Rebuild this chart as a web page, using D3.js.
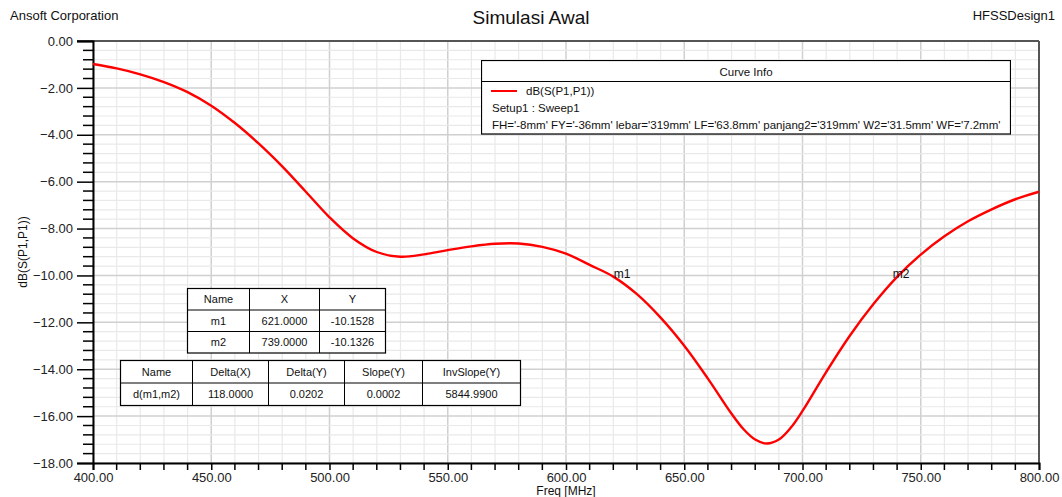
<!DOCTYPE html>
<html>
<head>
<meta charset="utf-8">
<script src="https://cdn.jsdelivr.net/npm/d3@7"></script>
<style>
  body { margin: 0; background: #ffffff; }
  svg { font-family: "Liberation Sans", Arial, sans-serif; display: block; }
</style>
</head>
<body>
<div id="canvas"></div>
<script>
// S11 curve (MHz, dB)
const freq = [400, 410, 420, 430, 440, 450, 460, 470, 480, 490, 500, 510, 520, 530, 540, 550, 560, 570, 580, 590,
              600, 610, 620, 630, 640, 650, 660, 670, 675, 680, 685, 690, 695, 700, 710, 720, 730, 740, 750, 760,
              770, 780, 790, 800];
const s11 = [-0.98, -1.17, -1.42, -1.75, -2.18, -2.76, -3.50, -4.37, -5.35, -6.43, -7.52, -8.42, -9.00, -9.20, -9.10, -8.92, -8.76, -8.65, -8.64, -8.78,
             -9.07, -9.55, -10.05, -10.80, -11.80, -13.00, -14.40, -15.90, -16.55, -17.00, -17.17, -17.00, -16.50, -15.78, -14.12, -12.57, -11.22, -10.06, -9.11, -8.33,
             -7.69, -7.18, -6.75, -6.43];

const markerNames = ["m1", "m2"];
const markerX = [621, 739];
const markerY = [-10.1528, -10.1326];

const xTicks = [400, 450, 500, 550, 600, 650, 700, 750, 800];
const yTicks = [0, -2, -4, -6, -8, -10, -12, -14, -16, -18];

const table1Head = ["Name", "X", "Y"];
const table1Rows = [["m1", "621.0000", "-10.1528"], ["m2", "739.0000", "-10.1326"]];
const table2Head = ["Name", "Delta(X)", "Delta(Y)", "Slope(Y)", "InvSlope(Y)"];
const table2Rows = [["d(m1,m2)", "118.0000", "0.0202", "0.0002", "5844.9900"]];

const legendLines = ["dB(S(P1,P1))", "Setup1 : Sweep1",
  "FH='-8mm' FY='-36mm' lebar='319mm' LF='63.8mm' panjang2='319mm' W2='31.5mm' WF='7.2mm'"];

const width = 1062, height = 497;
const margin = {left: 93, right: 23, top: 41, bottom: 34};

let svg = d3.select("#canvas").append("svg").attr("width", width).attr("height", height);
svg.append("rect").attr("width", width).attr("height", height).attr("fill", "#ffffff");

var x = d3.scaleLinear().domain([400, 800]).range([margin.left, width - margin.right]);
var y = d3.scaleLinear().domain([-18, 0]).range([height - margin.bottom, margin.top]);

// grid: minor then major
let grid = svg.append("g");
grid.selectAll("line.vx").data(d3.range(400, 801, 10)).enter().append("line")
    .attr("x1", d => x(d)).attr("x2", d => x(d)).attr("y1", y(0)).attr("y2", y(-18))
    .attr("stroke", d => d % 50 == 0 ? "#d0d0d0" : "#e9e9e9").attr("stroke-width", d => d % 50 == 0 ? 1.5 : 1.2);
grid.selectAll("line.hy").data(d3.range(0, 46)).enter().append("line")
    .attr("x1", x(400)).attr("x2", x(800)).attr("y1", i => y(-0.4 * i)).attr("y2", i => y(-0.4 * i))
    .attr("stroke", i => i % 5 == 0 ? "#d0d0d0" : "#e9e9e9").attr("stroke-width", i => i % 5 == 0 ? 1.5 : 1.2);

// frame top/right
svg.append("line").attr("x1", x(400) - 16).attr("x2", x(800)).attr("y1", y(0)).attr("y2", y(0))
    .attr("stroke", "#555").attr("stroke-width", 2);
svg.append("line").attr("x1", x(800)).attr("x2", x(800)).attr("y1", y(0)).attr("y2", y(-18))
    .attr("stroke", "#555").attr("stroke-width", 2);

// x axis
let xa = svg.append("g").attr("transform", "translate(0," + y(-18) + ")")
    .call(d3.axisBottom(x).tickValues(xTicks).tickFormat(d3.format(".2f")).tickSize(7).tickPadding(3));
xa.select(".domain").attr("stroke", "#000").attr("stroke-width", 2);
xa.selectAll(".tick line").attr("stroke", "#000").attr("stroke-width", 1.5);
xa.selectAll("text").attr("font-size", 13).attr("fill", "#222").attr("font-family", "Liberation Sans, Arial");
xa.selectAll(".minor").data(d3.range(400, 801, 10).filter(d => d % 50 != 0)).enter().append("line")
    .attr("x1", d => x(d)).attr("x2", d => x(d)).attr("y1", 0).attr("y2", 7)
    .attr("stroke", "#000").attr("stroke-width", 1.5);

// y axis
let ya = svg.append("g").attr("transform", "translate(" + x(400) + ",0)")
    .call(d3.axisLeft(y).tickValues(yTicks).tickFormat(d3.format(".2f")).tickSize(16).tickPadding(4));
ya.select(".domain").attr("stroke", "#000").attr("stroke-width", 2);
ya.selectAll(".tick line").attr("stroke", "#000").attr("stroke-width", 1.5);
ya.selectAll("text").attr("font-size", 13).attr("fill", "#222").attr("font-family", "Liberation Sans, Arial");
ya.selectAll(".minor").data(d3.range(0, 46).filter(i => i % 5 != 0)).enter().append("line")
    .attr("x1", -10).attr("x2", 0).attr("y1", i => y(-0.4 * i)).attr("y2", i => y(-0.4 * i))
    .attr("stroke", "#000").attr("stroke-width", 1.5);

// curve
const pts = freq.map((f, i) => [f, s11[i]]);
svg.append("path").datum(pts)
    .attr("fill", "none").attr("stroke", "#ff0000").attr("stroke-width", 2.4)
    .attr("d", d3.line().x(d => x(d[0])).y(d => y(d[1])).curve(d3.curveCatmullRom));

// marker labels
svg.selectAll("text.mk").data(markerNames).enter().append("text")
    .attr("x", (d, i) => x(markerX[i]) - 2).attr("y", (d, i) => y(markerY[i]) - 1)
    .attr("font-size", 12).attr("fill", "#111").text(d => d);

// header texts
svg.append("text").attr("x", 10).attr("y", 20).attr("font-size", 13).attr("fill", "#111").text("Ansoft Corporation");
svg.append("text").attr("x", 531).attr("y", 24).attr("text-anchor", "middle").attr("font-size", 19).attr("fill", "#111").text("Simulasi Awal");
svg.append("text").attr("x", 1055).attr("y", 20).attr("text-anchor", "end").attr("font-size", 13).attr("fill", "#111").text("HFSSDesign1");
svg.append("text").attr("x", 566).attr("y", 495).attr("text-anchor", "middle").attr("font-size", 12).attr("fill", "#111").text("Freq [MHz]");
svg.append("text").attr("transform", "translate(27,252) rotate(-90)").attr("text-anchor", "middle")
    .attr("font-size", 12).attr("fill", "#111").text("dB(S(P1,P1))");

// legend box
let lg = svg.append("g");
svg.append("clipPath").attr("id", "lgclip").append("rect").attr("x", 481).attr("y", 60).attr("width", 530).attr("height", 75);
lg.attr("clip-path", "url(#lgclip)");
lg.append("rect").attr("x", 481.5).attr("y", 60.5).attr("width", 529).attr("height", 73.5)
    .attr("fill", "#fff").attr("stroke", "#000").attr("stroke-width", 1.2);
lg.append("line").attr("x1", 481.5).attr("x2", 1010.5).attr("y1", 81.5).attr("y2", 81.5).attr("stroke", "#000");
lg.append("text").attr("x", 746).attr("y", 76).attr("text-anchor", "middle").attr("font-size", 11.5).attr("fill", "#111").text("Curve Info");
lg.append("line").attr("x1", 491).attr("x2", 517).attr("y1", 91).attr("y2", 91).attr("stroke", "#ff0000").attr("stroke-width", 2);
lg.append("text").attr("x", 526).attr("y", 95).attr("font-size", 11.5).attr("fill", "#111").text(legendLines[0]);
lg.append("text").attr("x", 492).attr("y", 112).attr("font-size", 11.5).attr("fill", "#111").text(legendLines[1]);
lg.append("text").attr("x", 492).attr("y", 129).attr("font-size", 11.5).attr("fill", "#111").text(legendLines[2]);

// tables
function drawTable(x0, y0, colW, rowH, head, rows) {
    let g = svg.append("g");
    let all = [head].concat(rows);
    let totalW = d3.sum(colW), totalH = rowH * all.length;
    g.append("rect").attr("x", x0).attr("y", y0).attr("width", totalW).attr("height", totalH)
        .attr("fill", "#fff").attr("stroke", "#000").attr("stroke-width", 1.2);
    let cx = d3.cumsum([x0].concat(colW));
    cx.slice(1, -1).forEach(v => g.append("line").attr("x1", v).attr("x2", v).attr("y1", y0).attr("y2", y0 + totalH).attr("stroke", "#000"));
    d3.range(1, all.length).forEach(r => g.append("line").attr("x1", x0).attr("x2", x0 + totalW)
        .attr("y1", y0 + r * rowH).attr("y2", y0 + r * rowH).attr("stroke", "#000"));
    all.forEach((row, r) => row.forEach((t, c) => {
        g.append("text").attr("x", cx[c] + colW[c] / 2).attr("y", y0 + r * rowH + rowH / 2 + 4)
            .attr("text-anchor", "middle").attr("font-size", 11).attr("fill", "#111").text(t);
    }));
}
drawTable(187.5, 288.5, [62, 70, 66], 21.5, table1Head, table1Rows);
drawTable(120.5, 360.5, [72, 76, 76, 78, 98], 22.5, table2Head, table2Rows);
</script>
</body>
</html>
